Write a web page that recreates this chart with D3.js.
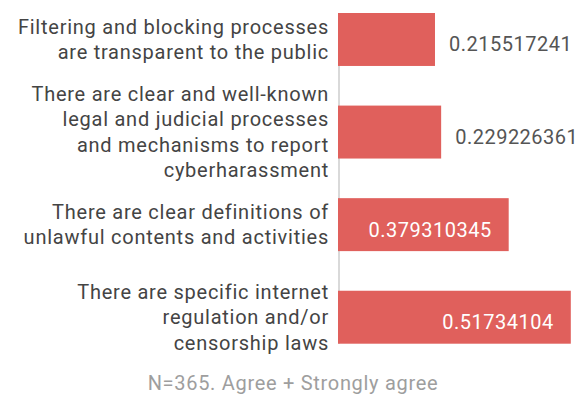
<!DOCTYPE html>
<html>
<head>
<meta charset="utf-8">
<script src="https://cdn.jsdelivr.net/npm/d3@7"></script>
<style>
  html, body { margin: 0; padding: 0; background: #fff; }
  svg { display: block; font-family: Roboto, "Noto Sans", sans-serif; }
</style>
</head>
<body>
<svg id="chart" width="581" height="394"></svg>
<script>
// Survey statements (each entry is one wrapped label, line by line)
const categories = [
  ["Filtering and blocking processes", "are transparent to the public"],
  ["There are clear and well-known", "legal and judicial processes", "and mechanisms to report", "cyberharassment"],
  ["There are clear definitions of", "unlawful contents and activities"],
  ["There are specific internet", "regulation and/or", "censorship laws"]
];
// Share of respondents who agree or strongly agree
const values = [0.215517241, 0.229226361, 0.379310345, 0.51734104];
const valueLabels = ["0.215517241", "0.229226361", "0.379310345", "0.51734104"];
const footnote = "N=365. Agree + Strongly agree";

const svg = d3.select("#chart");
const x0 = 338;          // left edge of the bars / baseline axis
const barColor = "#e0605c";

const idx = d3.range(values.length);

const x = d3.scaleLinear().domain([0, 1]).range([x0, x0 + 450]);
const y = d3.scaleBand().domain(idx).range([13, 343.7]).paddingInner(0.428).paddingOuter(0);

// Baseline axis line
svg.append("line")
  .attr("x1", x0 + 1).attr("x2", x0 + 1)
  .attr("y1", y(0)).attr("y2", y(idx.length - 1) + y.bandwidth())
  .attr("stroke", "#d9d9d9").attr("stroke-width", 2);

// Bars
svg.append("g").selectAll("rect").data(idx).join("rect")
  .attr("x", x(0))
  .attr("y", i => y(i))
  .attr("width", i => x(values[i]) - x(0))
  .attr("height", y.bandwidth())
  .attr("fill", barColor);

// Category labels, right aligned against the axis
const lineH = 25.4;
const labels = svg.append("g").selectAll("text").data(idx).join("text")
  .attr("text-anchor", "end")
  .attr("font-size", 20)
  .attr("letter-spacing", "0.75px")
  .attr("fill", "#444");
labels.each(function(i) {
  const lines = categories[i];
  const cy = y(i) + y.bandwidth() / 2;
  d3.select(this).selectAll("tspan").data(lines).join("tspan")
    .attr("x", x0 - 9)
    .attr("y", (d, k) => cy + (k - (lines.length - 1) / 2) * lineH + 7)
    .text(d => d);
});

// Value labels: inside the bar (white) when there is room, else outside
svg.append("g").selectAll("text").data(idx).join("text")
  .attr("font-size", 20)
  .attr("letter-spacing", "0.5px")
  .each(function(i) {
    const t = d3.select(this);
    const end = x(values[i]);
    const inside = values[i] > 0.3;
    t.attr("x", inside ? end - 17 : end + 14)
     .attr("y", y(i) + y.bandwidth() / 2 + 12)
     .attr("text-anchor", inside ? "end" : "start")
     .attr("fill", inside ? "#fff" : "#555")
     .text(valueLabels[i]);
  });

// Footnote
svg.append("text")
  .attr("x", 293).attr("y", 390)
  .attr("text-anchor", "middle")
  .attr("font-size", 20)
  .attr("letter-spacing", "0.7px")
  .attr("fill", "#9e9e9e")
  .text(footnote);
</script>
</body>
</html>
